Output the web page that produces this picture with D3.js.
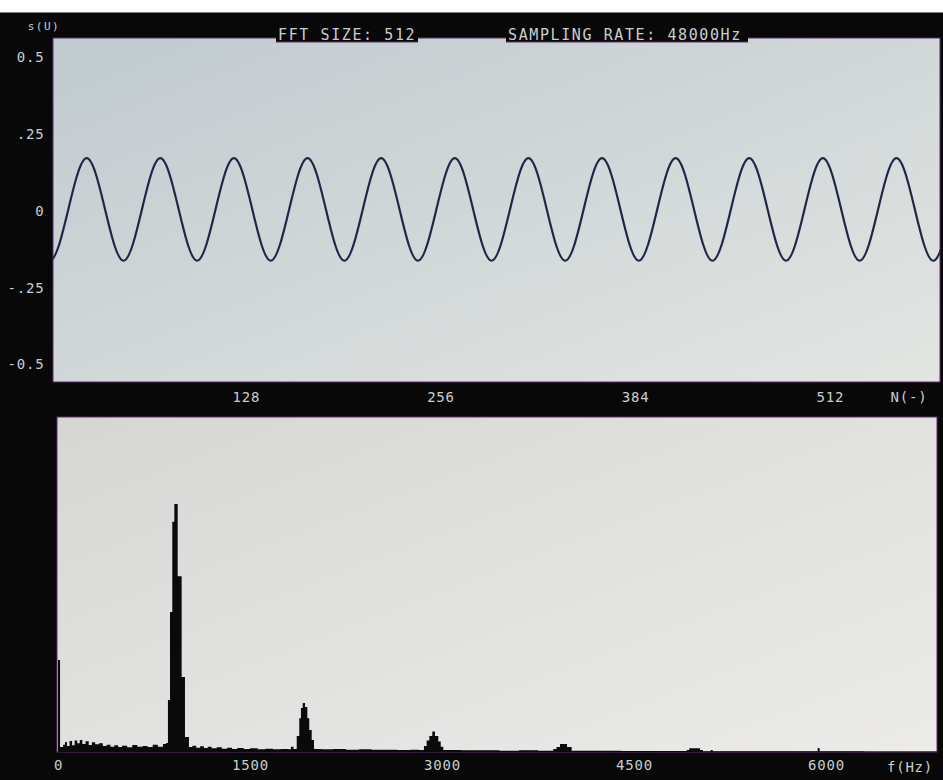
<!DOCTYPE html>
<html>
<head>
<meta charset="utf-8">
<script src="https://cdn.jsdelivr.net/npm/d3@7"></script>
<style>
  html, body { margin: 0; padding: 0; background: #080808; }
  svg { display: block; }
  text { font-family: "DejaVu Sans Mono", monospace; fill: #c9ced1; }
</style>
</head>
<body>
<div id="scope"></div>
<script>
// signal samples (peaks, zero crossings, troughs)
const waveN = [-12.9, -0.8, 11.3, 23.4, 35.5, 47.6, 59.7, 71.8, 83.9, 96.0, 108.1, 120.2, 132.3,
    144.4, 156.5, 168.6, 180.7, 192.8, 204.9, 217.0, 229.1, 241.2, 253.3, 265.4, 277.5,
    289.6, 301.7, 313.8, 325.9, 338.0, 350.1, 362.2, 374.3, 386.4, 398.5, 410.6, 422.7,
    434.8, 446.9, 459.0, 471.1, 483.2, 495.3, 507.4, 519.5, 531.6, 543.7, 555.8, 567.9,
    580.0, 592.1];
const waveV = [0.005, -0.162, 0.005, 0.172, 0.005, -0.162, 0.005, 0.172, 0.005, -0.162, 0.005, 0.172, 0.005,
    -0.162, 0.005, 0.172, 0.005, -0.162, 0.005, 0.172, 0.005, -0.162, 0.005, 0.172, 0.005,
    -0.162, 0.005, 0.172, 0.005, -0.162, 0.005, 0.172, 0.005, -0.162, 0.005, 0.172, 0.005,
    -0.162, 0.005, 0.172, 0.005, -0.162, 0.005, 0.172, 0.005, -0.162, 0.005, 0.172, 0.005,
    -0.162, 0.005];

// spectrum steps: start frequency (Hz) and relative magnitude (% of panel height)
const specF = [0, 16, 40, 55, 70, 90, 110, 130, 150, 170, 190, 215, 240, 265, 290, 320, 350, 380,
    410, 440, 470, 500, 540, 580, 620, 660, 700, 740, 780, 820,
    844, 859, 875, 893, 909, 935, 966, 992, 1023,
    1050, 1080, 1110, 1140, 1170, 1200, 1240, 1280, 1320, 1360, 1400, 1450, 1500, 1560, 1620,
    1680, 1740, 1800, 1820, 1840,
    1865, 1885, 1898, 1912, 1930, 1948, 1963, 1982, 2000,
    2060, 2150, 2250, 2350, 2450, 2550, 2650, 2750, 2820,
    2859, 2880, 2901, 2924, 2945, 2971, 2990, 3010,
    3150, 3300, 3450, 3600, 3750,
    3869, 3895, 3922, 3953, 3977, 4013,
    4200, 4400, 4600, 4800,
    4912, 4932, 4992, 5016, 5039, 5100, 5115, 5300, 5600, 5930, 5935, 5950, 6300, 6900];
const specM = [27.5, 1.5, 2.2, 3.0, 1.8, 3.3, 2.0, 3.4, 2.6, 3.6, 2.4, 3.2, 2.1, 2.9, 2.3, 2.6, 1.8, 2.2,
    1.6, 2.0, 1.5, 1.9, 1.4, 2.1, 1.6, 1.8, 1.5, 2.2, 1.6, 2.4,
    2.7, 15.5, 41.8, 68.7, 74.0, 52.5, 22.4, 4.5, 1.5,
    1.9, 1.3, 1.7, 1.2, 1.6, 1.1, 1.4, 1.0, 1.3, 0.9, 1.2, 0.9, 1.1, 0.8, 1.0,
    0.8, 0.9, 0.8, 1.6, 0.9,
    4.8, 10.1, 13.1, 14.6, 13.4, 10.1, 6.6, 3.6, 0.9,
    0.8, 0.9, 0.7, 0.8, 0.7, 0.7, 0.6, 0.7, 0.6,
    1.8, 3.4, 4.8, 6.1, 4.8, 3.1, 1.6, 0.6,
    0.5, 0.5, 0.4, 0.5, 0.4,
    0.9, 1.5, 2.4, 2.4, 1.5, 0.4,
    0.35, 0.3, 0.3, 0.3,
    0.6, 1.1, 1.1, 0.6, 0.25, 0.6, 0.25, 0.2, 0.2, 0.2, 1.2, 0.2, 0.15, 0.15];

const ampTicks = [-0.5, -0.25, 0, 0.25, 0.5];
const ampLabels = ["-0.5", "-.25", "0", ".25", "0.5"];
const sampleTicks = [128, 256, 384, 512];
const freqTicks = [0, 1500, 3000, 4500, 6000];

const width = 943, height = 780;
const top1 = {x0: 53, x1: 940, y0: 38, y1: 382};
const bot1 = {x0: 57, x1: 937, y0: 417, y1: 752};

let svg = d3.select("#scope")
    .append("svg")
    .attr("width", width)
    .attr("height", height);

let defs = svg.append("defs");
function grad(id, c0, c1) {
    let g = defs.append("linearGradient").attr("id", id)
        .attr("x1", "0%").attr("y1", "0%").attr("x2", "100%").attr("y2", "100%");
    g.append("stop").attr("offset", "0%").attr("stop-color", c0);
    g.append("stop").attr("offset", "100%").attr("stop-color", c1);
}
grad("g1", "#c0cacf", "#e3e5e2");
grad("g2", "#d6d7d5", "#ecebe9");

defs.append("clipPath").attr("id", "clip1").append("rect")
    .attr("x", top1.x0).attr("y", top1.y0)
    .attr("width", top1.x1 - top1.x0).attr("height", top1.y1 - top1.y0);
defs.append("clipPath").attr("id", "clip2").append("rect")
    .attr("x", bot1.x0).attr("y", bot1.y0)
    .attr("width", bot1.x1 - bot1.x0).attr("height", bot1.y1 - bot1.y0);

svg.append("rect").attr("width", width).attr("height", height).attr("fill", "#080808");
svg.append("rect").attr("width", width).attr("height", 12.5).attr("fill", "#ffffff");

// panels
svg.append("rect")
    .attr("x", top1.x0).attr("y", top1.y0)
    .attr("width", top1.x1 - top1.x0).attr("height", top1.y1 - top1.y0)
    .attr("fill", "url(#g1)")
    .attr("stroke", "#5d2f69").attr("stroke-width", 1);
svg.append("rect")
    .attr("x", bot1.x0).attr("y", bot1.y0)
    .attr("width", bot1.x1 - bot1.x0).attr("height", bot1.y1 - bot1.y0)
    .attr("fill", "url(#g2)")
    .attr("stroke", "#5d2f69").attr("stroke-width", 1);

// scales
let xN = d3.scaleLinear().domain([0, 512]).range([51.1, 51.1 + 1.521 * 512]);
let yV = d3.scaleLinear().domain([-0.5, 0.5]).range([364.5, 57.5]);
let xF = d3.scaleLinear().domain([0, 6000]).range([58, 826]);
let yM = d3.scaleLinear().domain([0, 100]).range([bot1.y1, bot1.y1 - 335]);

// waveform
let wave = waveN.map(function(n, i) { return [n, waveV[i]]; });
svg.append("path")
    .datum(wave)
    .attr("clip-path", "url(#clip1)")
    .attr("fill", "none")
    .attr("stroke", "#1d2747")
    .attr("stroke-width", 2.2)
    .attr("d", d3.line()
        .curve(d3.curveNatural)
        .x(function(d) { return xN(d[0]); })
        .y(function(d) { return yV(d[1]); })
    );

// spectrum
let spec = specF.map(function(f, i) { return [f, specM[i]]; });
svg.append("path")
    .datum(spec)
    .attr("clip-path", "url(#clip2)")
    .attr("fill", "#0a0a0a")
    .attr("d", d3.area()
        .curve(d3.curveStepAfter)
        .x(function(d) { return xF(d[0]); })
        .y0(bot1.y1 + 2)
        .y1(function(d) { return yM(d[1]); })
    );

// axes
let ampAxis = svg.append("g")
    .attr("transform", `translate(${top1.x0 - 0.5}, 0)`)
    .call(d3.axisLeft(yV).tickValues(ampTicks).tickSize(0).tickPadding(8)
        .tickFormat(function(d, i) { return ampLabels[i]; }));

let nAxis = svg.append("g")
    .attr("transform", `translate(0, ${top1.y1})`)
    .call(d3.axisBottom(xN).tickValues(sampleTicks).tickSize(0).tickPadding(10)
        .tickFormat(d3.format("d")));

let fAxis = svg.append("g")
    .attr("transform", `translate(0, ${bot1.y1})`)
    .call(d3.axisBottom(xF).tickValues(freqTicks).tickSize(0).tickPadding(8)
        .tickFormat(d3.format("d")));

[ampAxis, nAxis, fAxis].forEach(function(a) {
    a.select(".domain").remove();
    a.selectAll("text")
        .attr("fill", "#c9ced1")
        .style("font-family", "DejaVu Sans Mono, monospace")
        .style("font-size", "14px")
        .style("letter-spacing", "0.8px");
});

// unit labels
svg.append("text")
    .attr("x", 44).attr("y", 30)
    .attr("text-anchor", "middle")
    .style("font-size", "11px")
    .style("letter-spacing", "1.5px")
    .attr("fill", "#8d9397")
    .text("s(U)");

svg.append("text")
    .attr("x", 909).attr("y", 402)
    .attr("text-anchor", "middle")
    .style("font-size", "14px")
    .style("letter-spacing", "0.8px")
    .text("N(-)");

svg.append("text")
    .attr("x", 910).attr("y", 772)
    .attr("text-anchor", "middle")
    .style("font-size", "14px")
    .style("letter-spacing", "0.8px")
    .text("f(Hz)");

// header boxes
function header(x, w, label) {
    svg.append("rect")
        .attr("x", x).attr("y", 14).attr("width", w).attr("height", 28)
        .attr("fill", "#080808");
    svg.append("line")
        .attr("x1", x).attr("x2", x + w).attr("y1", 42).attr("y2", 42)
        .attr("stroke", "#5d2f69").attr("stroke-width", 1);
    svg.append("text")
        .attr("x", x + 2).attr("y", 40)
        .style("font-size", "15px")
        .style("letter-spacing", "1.6px")
        .attr("fill", "#aab3ba")
        .text(label);
}
header(276, 142, "FFT SIZE: 512");
header(506, 242, "SAMPLING RATE: 48000Hz");
</script>
</body>
</html>
